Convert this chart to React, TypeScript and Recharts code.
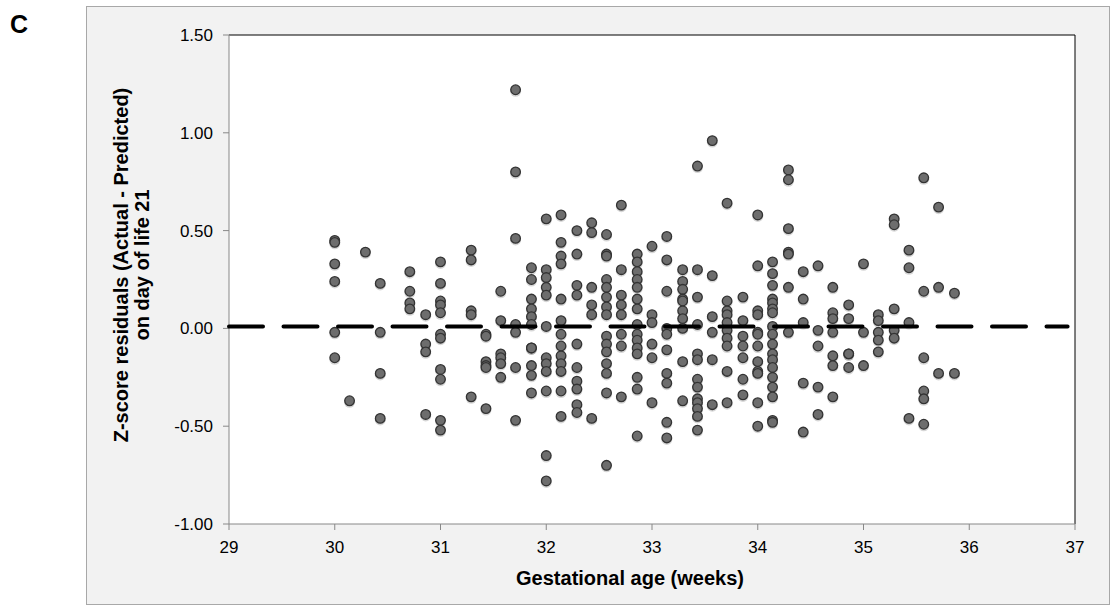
import React from "react";
import {
  ScatterChart,
  Scatter,
  XAxis,
  YAxis,
  CartesianGrid,
  ReferenceLine,
} from "recharts";

// gestational age columns (weeks + days/7)
const weeks = [
  30, 30.14, 30.29, 30.43, 30.71, 30.86, 31, 31.29, 31.43, 31.57, 31.71, 31.86,
  32, 32.14, 32.29, 32.43, 32.57, 32.71, 32.86, 33, 33.14, 33.29, 33.43, 33.57,
  33.71, 33.86, 34, 34.14, 34.29, 34.43, 34.57, 34.71, 34.86, 35, 35.14, 35.29,
  35.43, 35.57, 35.71, 35.86,
];

// z-score residuals read per column, same order as weeks
const residuals: number[][] = [
  [0.45, 0.44, 0.33, 0.24, -0.02, -0.15],
  [-0.37],
  [0.39],
  [0.23, -0.02, -0.23, -0.46],
  [0.29, 0.19, 0.13, 0.1],
  [0.07, -0.08, -0.12, -0.44],
  [0.34, 0.23, 0.14, 0.12, 0.08, -0.03, -0.05, -0.21, -0.26, -0.47, -0.52],
  [0.4, 0.35, 0.09, 0.07, -0.35],
  [-0.03, -0.04, -0.17, -0.19, -0.2, -0.41],
  [0.19, 0.04, -0.13, -0.15, -0.18, -0.25],
  [1.22, 0.8, 0.46, 0.02, -0.02, -0.2, -0.47],
  [0.31, 0.25, 0.15, 0.1, 0.06, 0.02, -0.1, -0.1, -0.19, -0.24, -0.33],
  [0.56, 0.3, 0.26, 0.21, 0.17, 0.01, -0.15, -0.18, -0.22, -0.32, -0.65, -0.78],
  [0.58, 0.44, 0.37, 0.33, 0.15, 0.04, -0.03, -0.09, -0.14, -0.18, -0.22, -0.32, -0.45],
  [0.5, 0.38, 0.22, 0.17, -0.08, -0.2, -0.27, -0.31, -0.39, -0.43],
  [0.54, 0.49, 0.21, 0.12, 0.07, -0.46],
  [0.48, 0.38, 0.37, 0.25, 0.21, 0.16, 0.11, 0.07, -0.04, -0.08, -0.12, -0.18, -0.23, -0.33, -0.7],
  [0.63, 0.3, 0.17, 0.12, 0.07, -0.03, -0.09, -0.35],
  [0.38, 0.34, 0.29, 0.25, 0.21, 0.15, 0.1, 0.02, -0.03, -0.06, -0.1, -0.13, -0.25, -0.31, -0.55],
  [0.42, 0.07, 0.03, -0.08, -0.15, -0.38],
  [0.47, 0.35, 0.19, 0.0, -0.03, -0.11, -0.23, -0.28, -0.48, -0.56],
  [0.3, 0.24, 0.2, 0.15, 0.14, 0.09, 0.05, 0.0, -0.17, -0.37],
  [0.83, 0.3, 0.16, 0.02, -0.13, -0.16, -0.26, -0.3, -0.36, -0.38, -0.41, -0.45, -0.52],
  [0.96, 0.27, 0.06, -0.02, -0.16, -0.39],
  [0.64, 0.14, 0.09, 0.07, 0.03, -0.01, -0.05, -0.09, -0.22, -0.38],
  [0.16, 0.04, -0.04, -0.09, -0.15, -0.26, -0.34],
  [0.58, 0.32, 0.09, 0.07, -0.02, -0.03, -0.09, -0.17, -0.22, -0.23, -0.38, -0.5],
  [0.34, 0.28, 0.22, 0.15, 0.13, 0.1, 0.08, 0.01, -0.03, -0.08, -0.13, -0.16, -0.2, -0.25, -0.3, -0.35, -0.47, -0.48],
  [0.81, 0.76, 0.51, 0.39, 0.38, 0.21, -0.02],
  [0.29, 0.15, 0.03, -0.28, -0.53],
  [0.32, -0.01, -0.09, -0.3, -0.44],
  [0.21, 0.08, 0.05, -0.02, -0.14, -0.19, -0.35],
  [0.12, 0.05, -0.13, -0.13, -0.2],
  [0.33, -0.02, -0.19],
  [0.07, 0.04, -0.02, -0.06, -0.12],
  [0.56, 0.53, 0.1, -0.01, -0.05],
  [0.4, 0.31, 0.03, -0.46],
  [0.77, 0.19, -0.15, -0.32, -0.36, -0.49],
  [0.62, 0.21, -0.23],
  [0.18, -0.23],
];

const xTicks = [29, 30, 31, 32, 33, 34, 35, 36, 37];
const yTicks = [-1, -0.5, 0, 0.5, 1, 1.5];
const meanLine = 0.01;

const points = weeks.flatMap((w, i) => residuals[i].map((r) => ({ age: w, z: r })));

const font = "'Liberation Sans', Arial, sans-serif";

// grey marker with a soft shadow underneath
const Marker = (props: any) => {
  const { cx, cy } = props;
  return (
    <g>
      <circle cx={cx} cy={cy + 1.5} r={5.5} fill="rgba(0,0,0,0.16)" />
      <circle cx={cx} cy={cy} r={4.8} fill="#6d6d6d" stroke="#333" strokeWidth={1.3} />
    </g>
  );
};

export default function App() {
  return (
    <div style={{ position: "absolute", left: 0, top: 0, width: 1116, height: 609, background: "#fff" }}>
      <div
        style={{
          position: "absolute",
          left: 86,
          top: 6,
          width: 1024,
          height: 599,
          background: "#f2f2f2",
          border: "1px solid #a8a8a8",
          boxSizing: "border-box",
        }}
      />
      <div style={{ position: "absolute", left: 86, top: 6 }}>
        <ScatterChart width={1024} height={599} margin={{ top: 29, right: 35, bottom: 41, left: 83 }}>
          <CartesianGrid horizontal={false} vertical={false} fill="#fff" />
          <XAxis
            type="number"
            dataKey="age"
            domain={[29, 37]}
            ticks={xTicks}
            height={40}
            tickSize={6}
            tickMargin={11}
            stroke="#888"
            tick={{ fill: "#000", fontSize: 17, fontFamily: font }}
          />
          <YAxis
            type="number"
            dataKey="z"
            domain={[-1, 1.5]}
            ticks={yTicks}
            width={60}
            tickSize={6}
            tickMargin={10}
            stroke="#888"
            tickFormatter={(v: number) => v.toFixed(2)}
            tick={{ fill: "#000", fontSize: 17, fontFamily: font }}
          />
          <ReferenceLine y={1.5} stroke="#000" strokeWidth={1} />
          <ReferenceLine x={37} stroke="#000" strokeWidth={1} />
          <Scatter data={points} shape={Marker} isAnimationActive={false} />
          <ReferenceLine
            segment={[
              { x: 29, y: meanLine },
              { x: 36.93, y: meanLine },
            ]}
            stroke="#000"
            strokeWidth={4}
            strokeDasharray="34 20.5"
            strokeLinecap="round"
            zIndex={900}
          />
        </ScatterChart>
      </div>
      <svg
        width={1116}
        height={609}
        style={{ position: "absolute", left: 0, top: 0, pointerEvents: "none" }}
        fontFamily={font}
      >
        <text x={10} y={33} fontSize={25} fontWeight="bold">
          C
        </text>
        <text x={630} y={585} fontSize={20} fontWeight="bold" textAnchor="middle">
          Gestational age (weeks)
        </text>
        <text
          transform="translate(128,265) rotate(-90)"
          fontSize={20}
          fontWeight="bold"
          textAnchor="middle"
        >
          Z-score residuals (Actual - Predicted)
        </text>
        <text
          transform="translate(149,265) rotate(-90)"
          fontSize={20}
          fontWeight="bold"
          textAnchor="middle"
        >
          on day of life 21
        </text>
      </svg>
    </div>
  );
}
